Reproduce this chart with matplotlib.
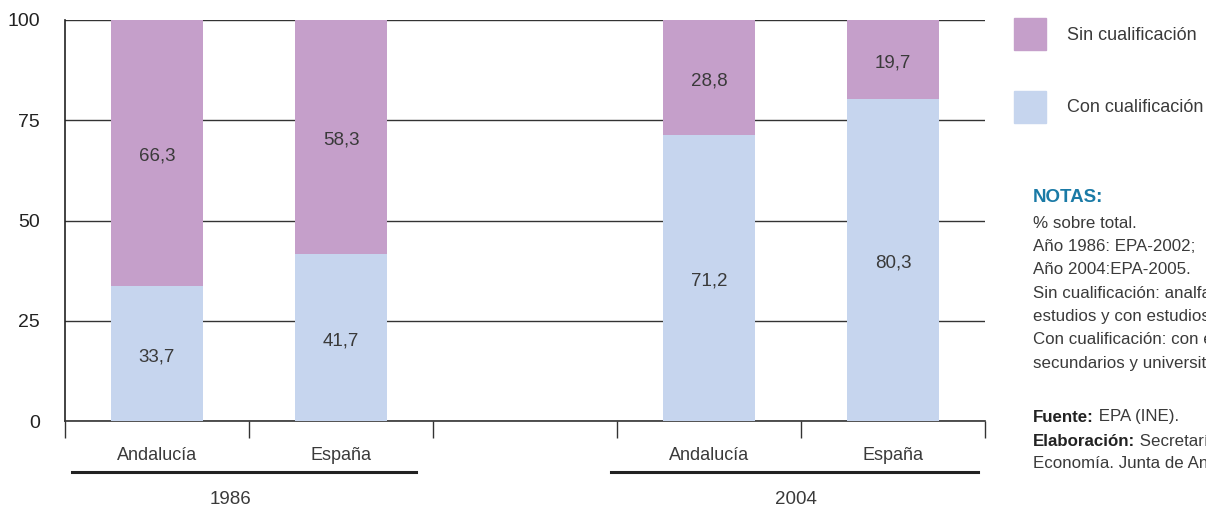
import matplotlib.pyplot as plt
from matplotlib.patches import Rectangle

# data
years = ['1986', '2004']
regions = ['Andalucía', 'España', 'Andalucía', 'España']
con_cualif = [33.7, 41.7, 71.2, 80.3]
sin_cualif = [66.3, 58.3, 28.8, 19.7]
xpos = [0, 1, 3, 4]

purple = '#c59fca'
blue = '#c6d5ee'
txt = '#3a3a3a'

plt.rcParams['font.family'] = ['Liberation Sans', 'DejaVu Sans']

fig = plt.figure(figsize=(12.06, 5.07), dpi=100)
ax = fig.add_axes([65/1206, 86/507, 920/1206, 401/507])

ax.bar(xpos, con_cualif, width=0.5, color=blue, zorder=3)
ax.bar(xpos, sin_cualif, width=0.5, bottom=con_cualif, color=purple, zorder=3)

def fmt(v):
    return ('%.1f' % v).replace('.', ',')

for x, c, s in zip(xpos, con_cualif, sin_cualif):
    ax.text(x, c / 2 - 0.8, fmt(c), ha='center', va='center', fontsize=13.5, color=txt, zorder=4)
    ax.text(x, c + s / 2 - 0.8, fmt(s), ha='center', va='center', fontsize=13.5, color=txt, zorder=4)

ax.set_xlim(-0.5, 4.5)
ax.set_ylim(0, 100)
ax.set_yticks([0, 25, 50, 75, 100])
ax.tick_params(axis='y', length=0, pad=18, labelsize=14, labelcolor='#222222')
ax.set_xticks([-0.5, 0.5, 1.5, 2.5, 3.5, 4.5])
ax.set_xticklabels([])
ax.tick_params(axis='x', length=12, width=1, color='#333333', direction='out')
ax.grid(axis='y', color='#333333', linewidth=1, zorder=1)
for sp in ['top', 'right']:
    ax.spines[sp].set_visible(False)
ax.spines['left'].set_color('#222222')
ax.spines['bottom'].set_color('#333333')
ax.spines['left'].set_linewidth(1.2)
ax.spines['bottom'].set_linewidth(1.2)

# category labels
for x, r in zip(xpos, regions):
    ax.annotate(r, xy=(x, 0), xycoords=('data', 'axes fraction'), xytext=(0, -25),
                textcoords='offset points', ha='center', va='center', fontsize=13, color=txt)

# group underlines and year labels
for (x0, x1), xm, yr in zip([(-0.46, 1.41), (2.47, 4.46)], [0.4, 3.47], years):
    fig.add_artist(plt.Line2D([ax.transData.transform((x0, 0))[0] / 1206,
                               ax.transData.transform((x1, 0))[0] / 1206],
                              [35/507, 35/507], color='#222222', linewidth=2.2))
    xf = ax.transData.transform((xm, 0))[0] / 1206
    fig.text(xf, 8/507, yr, ha='center', va='center', fontsize=13.5, color=txt)

# legend
fig.add_artist(Rectangle((1014/1206, (507-50)/507), 32/1206, 32/507, color=purple, transform=fig.transFigure))
fig.add_artist(Rectangle((1014/1206, (507-123)/507), 32/1206, 32/507, color=blue, transform=fig.transFigure))
fig.text(1067/1206, (507-36)/507, 'Sin cualificación', ha='left', va='center', fontsize=13, color=txt)
fig.text(1067/1206, (507-108)/507, 'Con cualificación', ha='left', va='center', fontsize=13, color=txt)

# notes
fig.text(1033/1206, (507-198)/507, 'NOTAS:', ha='left', va='center', fontsize=13.5, color='#1a7aa6',
         fontweight='bold')
notes = ['% sobre total.', 'Año 1986: EPA-2002;', 'Año 2004:EPA-2005.',
         'Sin cualificación: analfabetos, sin', 'estudios y con estudios primarios.',
         'Con cualificación: con estudios', 'secundarios y universitarios.']
ny = 223
for n in notes:
    fig.text(1033/1206, (507-ny)/507, n, ha='left', va='center', fontsize=12.2, color=txt)
    ny += 23.4
src = [('Fuente:', ' EPA (INE).', 417), ('Elaboración:', ' Secretaría General de', 441),
       ('', 'Economía. Junta de Andalucía.', 464)]
fig.canvas.draw()
for b, t, y in src:
    w = 0
    if b:
        tb = fig.text(1033/1206, (507-y)/507, b, ha='left', va='center', fontsize=12.2,
                      color='#222222', fontweight='bold')
        w = tb.get_window_extent(renderer=fig.canvas.get_renderer()).width
    fig.text((1033 + w)/1206, (507-y)/507, t, ha='left', va='center', fontsize=12.2, color=txt)

fig.savefig('out.png', dpi=100)
